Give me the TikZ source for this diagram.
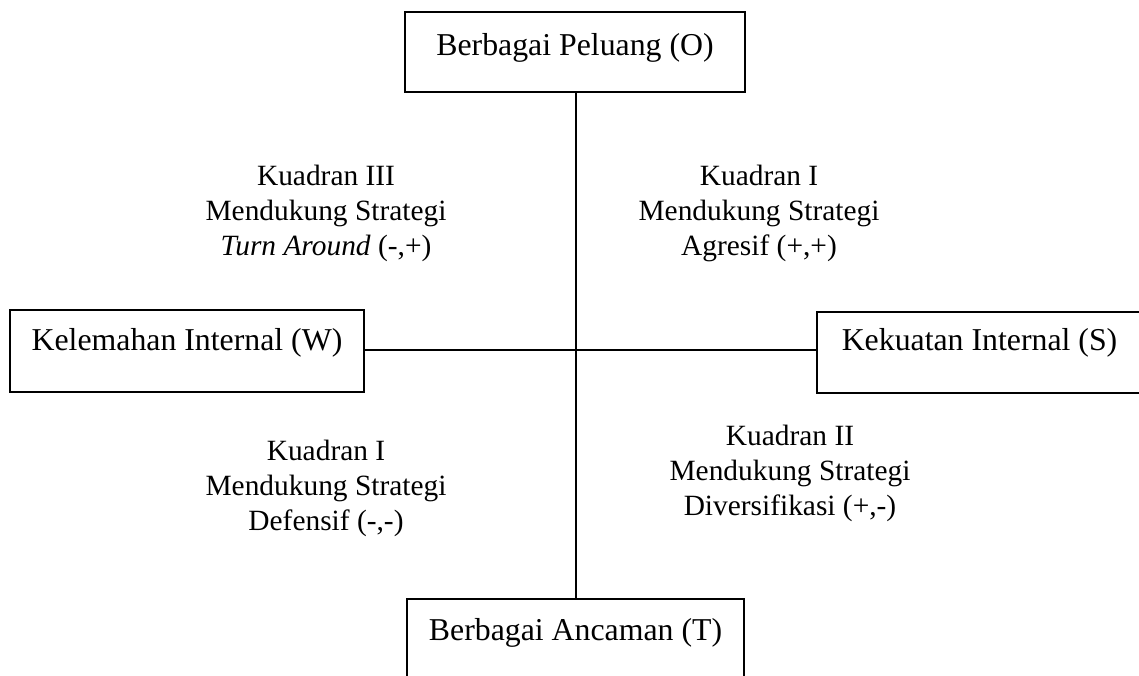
\documentclass[tikz,border=0pt]{standalone}
\usepackage{fontspec}
\setmainfont{Liberation Serif}
\begin{document}
\begin{tikzpicture}[x=1pt,y=-1pt,
  boxtext/.style={draw,line width=1.6pt,inner sep=0pt,anchor=base,font=\fontsize{31.8}{38}\selectfont},
  quad/.style={align=center,inner sep=0pt,anchor=base,font=\fontsize{29.4}{35}\selectfont},
  axis/.style={line width=1.6pt}]
\useasboundingbox (0,0) rectangle (1139,675);
\clip (0,0) rectangle (1139,675);
\node[boxtext,minimum width=340pt,text height=43pt,text depth=37pt] (O) at (575,55) {Berbagai Peluang (O)};
\node[boxtext,minimum width=337pt,text height=41pt,text depth=70pt] (T) at (575.5,640) {Berbagai Ancaman (T)};
\node[boxtext,minimum width=354pt,text height=40pt,text depth=42pt] (W) at (187,350) {Kelemahan Internal (W)};
\node[boxtext,minimum width=325pt,text height=38pt,text depth=43pt] (S) at (979.5,350) {Kekuatan Internal (S)};
\coordinate (c) at (576,350);
\draw[axis] (O.south -| c) -- (T.north -| c);
\draw[axis] (W.east |- c) -- (S.west |- c);
\node[quad] (q3) at (326,255) {Kuadran III\\Mendukung Strategi\\\textit{Turn Around} (-,+)};
\node[quad] (q1) at (759,255) {Kuadran I\\Mendukung Strategi\\Agresif (+,+)};
\node[quad] (q4) at (326,530) {Kuadran I\\Mendukung Strategi\\Defensif (-,-)};
\node[quad] (q2) at (790,515) {Kuadran II\\Mendukung Strategi\\Diversifikasi (+,-)};
\end{tikzpicture}
\end{document}
